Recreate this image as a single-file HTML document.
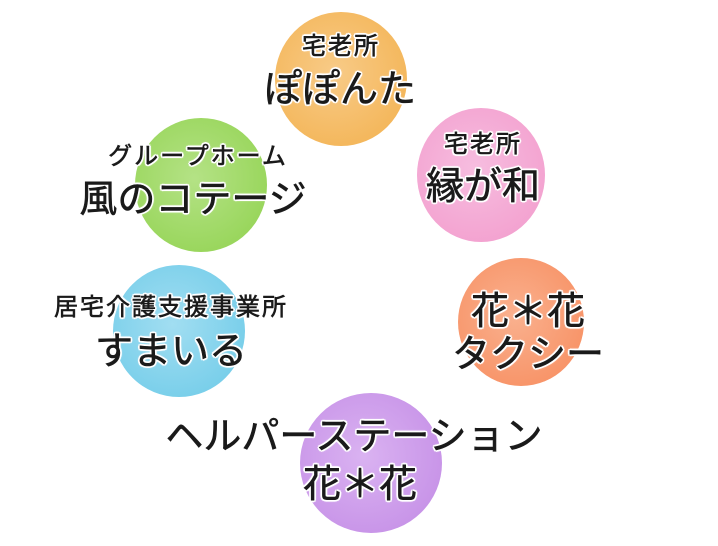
<!DOCTYPE html>
<html><head><meta charset="utf-8"><style>
html,body{margin:0;padding:0;background:#fff;}
body{width:718px;height:546px;position:relative;overflow:hidden;font-family:"Liberation Sans","Noto Sans CJK JP",sans-serif;}
.c{position:absolute;border-radius:50%;}
.t{position:absolute;color:#1a1a1a;text-align:center;white-space:nowrap;line-height:1;-webkit-text-stroke:0.6px #1a1a1a;
text-shadow:0 0 3px #fff,0 0 3px #fff,2px 0 0 #fff,-2px 0 0 #fff,0 2px 0 #fff,0 -2px 0 #fff,1.5px 1.5px 0 #fff,-1.5px -1.5px 0 #fff,1.5px -1.5px 0 #fff,-1.5px 1.5px 0 #fff;}
.s{font-size:24px;letter-spacing:2px;text-indent:2px;}
.l{font-size:38px;}
</style></head><body>
<div class="c" style="left:275px;top:12px;width:132px;height:134px;background:radial-gradient(circle at 45% 45%,#f7c57a,#f3b04c 70%,#f0a83c);opacity:.9"></div>
<div class="c" style="left:417px;top:108px;width:128px;height:134px;background:radial-gradient(circle at 45% 45%,#f6b6dc,#f29acc 70%,#ee8ec6);opacity:.9"></div>
<div class="c" style="left:135px;top:118px;width:132px;height:134px;background:radial-gradient(circle at 45% 45%,#acdf78,#8fd24c 70%,#84cc3e);opacity:.9"></div>
<div class="c" style="left:113px;top:265px;width:132px;height:132px;background:radial-gradient(circle at 45% 45%,#97daf0,#6ccae8 70%,#5cc2e4);opacity:.9"></div>
<div class="c" style="left:458px;top:258px;width:126px;height:128px;background:radial-gradient(circle at 45% 45%,#f9a882,#f78a5a 70%,#f47c4a);opacity:.9"></div>
<div class="c" style="left:300px;top:393px;width:142px;height:140px;background:radial-gradient(circle at 45% 45%,#d6aaf0,#c38ae6 70%,#b87ce0);opacity:.9"></div>

<div class="t s" style="left:240px;top:35px;width:200px;">宅老所</div>
<div class="t l" style="left:190px;top:71px;width:300px;">ぽぽんた</div>
<div class="t s" style="left:382px;top:133px;width:200px;">宅老所</div>
<div class="t l" style="left:333px;top:168px;width:300px;">縁が和</div>
<div class="t s" style="left:47px;top:145px;width:300px;">グループホーム</div>
<div class="t l" style="left:43px;top:181px;width:300px;">風のコテージ</div>
<div class="t s" style="left:20px;top:296px;width:300px;">居宅介護支援事業所</div>
<div class="t l" style="left:21px;top:333px;width:300px;">すまいる</div>
<div class="t l" style="left:378px;top:293px;width:300px;">花＊花</div>
<div class="t l" style="left:378px;top:336px;width:300px;">タクシー</div>
<div class="t l" style="left:104px;top:418px;width:500px;">ヘルパーステーション</div>
<div class="t l" style="left:210px;top:466px;width:300px;">花＊花</div>
</body></html>
